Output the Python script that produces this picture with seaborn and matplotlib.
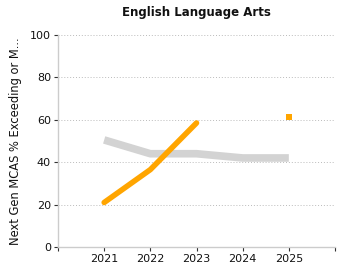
import numpy as np
import pandas as pd
import matplotlib
matplotlib.use("Agg")
import matplotlib.pyplot as plt
import seaborn as sns

years = [2021, 2022, 2023, 2024, 2025]
school = [21, 36.5, 58.5, np.nan, 61.5]
state = [50.5, 44, 44, 42, 42]
xtick_labels = ["2021", "2022", "2023", "2024", "2025"]
title = "English Language Arts"
ylabel = "Next Gen MCAS % Exceeding or M..."

sns.set_theme(style="white")
plt.rcParams['font.family'] = ['DejaVu Sans']

fig = plt.figure(figsize=(3.5, 2.8), dpi=100)
ax = fig.add_axes([58/350, 33/280, (335-58)/350, (247-35)/280])

df_state = pd.DataFrame({"year": years, "value": state})
df_school = pd.DataFrame({"year": years, "value": school})

sns.lineplot(data=df_state, x="year", y="value", ax=ax, color="#d3d3d3",
             linewidth=5.5, solid_capstyle="butt")

# connected runs of school values
vals = df_school["value"].to_numpy()
runs, cur = [], []
for i, v in enumerate(vals):
    if np.isnan(v):
        if cur:
            runs.append(cur)
        cur = []
    else:
        cur.append(i)
if cur:
    runs.append(cur)
for r in runs:
    sub = df_school.iloc[r]
    if len(r) > 1:
        sns.lineplot(data=sub, x="year", y="value", ax=ax, color="#FFA500",
                     linewidth=4, solid_capstyle="round")
    else:
        sns.scatterplot(data=sub, x="year", y="value", ax=ax, color="#FFA500",
                        marker="s", s=14, linewidth=0)

ax.set_xlim(2020, 2026)
ax.set_ylim(0, 100)
ax.set_xticks([2020, 2021, 2022, 2023, 2024, 2025, 2026])
ax.set_xticklabels([""] + xtick_labels + [""], fontsize=8)
ax.set_yticks([0, 20, 40, 60, 80, 100])
ax.set_yticklabels(["0", "20", "40", "60", "80", "100"], fontsize=8)
ax.yaxis.grid(True, linestyle=(0, (1, 2)), color="#bbbbbb", linewidth=0.7)
ax.xaxis.grid(False)
for s in ["top", "right"]:
    ax.spines[s].set_visible(False)
for s in ["left", "bottom"]:
    ax.spines[s].set_color("#cccccc")
    ax.spines[s].set_linewidth(1)
ax.tick_params(axis="both", which="both", bottom=True, left=True, length=3,
               width=0.8, color="#333333", direction="out", pad=2,
               labelcolor="#111111")
ax.set_xlabel("")
ax.set_ylabel(ylabel, fontsize=8.3, color="#111111", labelpad=6)
ax.set_title(title, fontsize=8.5, fontweight="bold", color="#111111", pad=14)

fig.savefig("out.png", dpi=100)
